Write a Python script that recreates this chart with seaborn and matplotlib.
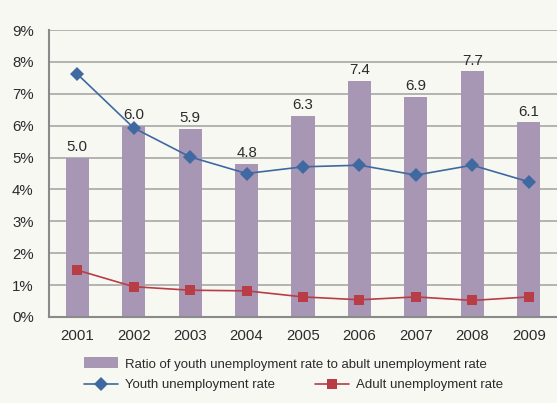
import matplotlib
matplotlib.use("Agg")
import matplotlib.pyplot as plt
from matplotlib.lines import Line2D
from matplotlib.patches import Patch
import seaborn as sns
import pandas as pd

years = ["2001", "2002", "2003", "2004", "2005", "2006", "2007", "2008", "2009"]
ratio = [5.0, 6.0, 5.9, 4.8, 6.3, 7.4, 6.9, 7.7, 6.1]
youth_rate = [7.62, 5.93, 5.02, 4.50, 4.71, 4.76, 4.45, 4.76, 4.24]
adult_rate = [1.47, 0.95, 0.84, 0.82, 0.63, 0.54, 0.63, 0.52, 0.63]
y_ticks = [0, 1, 2, 3, 4, 5, 6, 7, 8, 9]

ratio_label = "Ratio of youth unemployment rate to abult unemployment rate"
youth_label = "Youth unemployment rate"
adult_label = "Adult unemployment rate"

bg = "#f8f8f3"
bar_color = "#a797b5"
youth_color = "#3f69a0"
adult_color = "#b83d47"
grid_color = "#a0a0a0"
text_color = "#2b2b2b"

sns.set_theme(style="white")
plt.rcParams["font.family"] = ["Liberation Sans", "DejaVu Sans"]

df = pd.DataFrame({"year": years, "ratio": ratio, "youth": youth_rate, "adult": adult_rate})

fig = plt.figure(figsize=(5.57, 4.03), dpi=100, facecolor=bg)
ax = fig.add_axes([49 / 557, 1 - 317 / 403, 1 - 49 / 557, (317 - 30) / 403])
ax.set_facecolor(bg)

# horizontal gridlines drawn underneath everything
for t in y_ticks[1:]:
    ax.axhline(t, color=grid_color, lw=1.1, zorder=0)

sns.barplot(data=df, x="year", y="ratio", color=bar_color, width=0.41,
            saturation=1, linewidth=0, ax=ax, zorder=2)
for i, v in enumerate(ratio):
    ax.text(i, v + 0.12, f"{v:.1f}", ha="center", va="bottom",
            fontsize=10.8, color=text_color, zorder=5)

sns.lineplot(data=df, x="year", y="youth", color=youth_color, lw=1.2,
             marker="D", markersize=7, markeredgewidth=0, sort=False, ax=ax, zorder=4)
sns.lineplot(data=df, x="year", y="adult", color=adult_color, lw=1.2,
             marker="s", markersize=7, markeredgewidth=0, sort=False, ax=ax, zorder=4)

ax.set_xlim(-0.5, len(years) - 0.5)
ax.set_ylim(0, 9)
ax.set_yticks(y_ticks)
ax.set_yticklabels([f"{t}%" for t in y_ticks])
ax.set_xlabel("")
ax.set_ylabel("")
ax.tick_params(axis="both", length=0, labelsize=10.8, colors=text_color)
ax.tick_params(axis="x", pad=9)
ax.tick_params(axis="y", pad=11)
for s in ["top", "right"]:
    ax.spines[s].set_visible(False)
for s in ["left", "bottom"]:
    ax.spines[s].set_color("#8a8a8a")
    ax.spines[s].set_linewidth(1.5)

# size the legend text so the long label fits its line
renderer = fig.canvas.get_renderer()
probe = fig.text(0, 0, ratio_label, fontsize=10)
w10 = probe.get_window_extent(renderer).width
probe.remove()
leg_size = 10 * 365 / w10

fig.legend(handles=[Patch(color=bar_color, linewidth=0)], labels=[ratio_label],
           loc="center left", bbox_to_anchor=(84 / 557, 1 - 364 / 403),
           frameon=False, fontsize=leg_size, handlelength=2.6, handleheight=0.9,
           handletextpad=0.5, borderpad=0, borderaxespad=0, labelcolor=text_color)
handles = [Line2D([], [], color=youth_color, lw=1.2, marker="D", markersize=7, markeredgewidth=0),
           Line2D([], [], color=adult_color, lw=1.2, marker="s", markersize=7, markeredgewidth=0)]
fig.legend(handles=handles, labels=[youth_label, adult_label],
           loc="center left", bbox_to_anchor=(84 / 557, 1 - 385 / 403), ncol=2,
           frameon=False, fontsize=leg_size, handlelength=2.6, handletextpad=0.5,
           columnspacing=3.0, borderpad=0, borderaxespad=0, labelcolor=text_color)

fig.savefig("out.png", dpi=100, facecolor=bg)
